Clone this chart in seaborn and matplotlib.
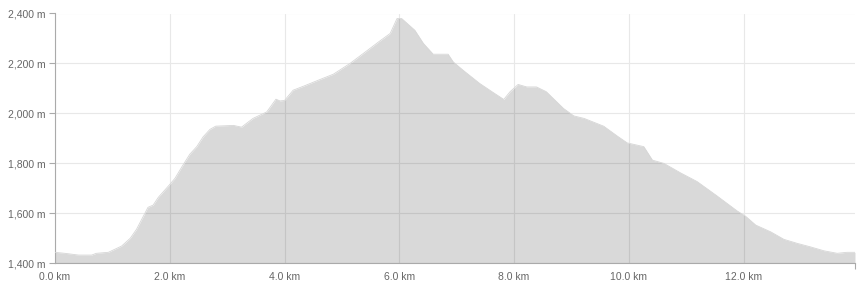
import matplotlib
matplotlib.use("Agg")
import matplotlib.pyplot as plt
import seaborn as sns
import pandas as pd
import numpy as np

# distance (km) and elevation (m)
distance_km = [0.0, 0.17, 0.41, 0.64, 0.72, 0.93, 1.16, 1.31, 1.42, 1.62, 1.71, 1.80,
               1.99, 2.09, 2.21, 2.35, 2.47, 2.58, 2.70, 2.80, 3.11, 3.25, 3.45, 3.69,
               3.85, 3.92, 4.0, 4.15, 4.33, 4.62, 4.85, 5.14, 5.43, 5.66, 5.84, 5.96,
               6.04, 6.27, 6.42, 6.59, 6.85, 6.94, 7.11, 7.40, 7.64, 7.82, 7.93, 8.07,
               8.22, 8.39, 8.56, 8.86, 9.04, 9.22, 9.56, 9.80, 9.97, 10.26, 10.41,
               10.61, 10.90, 11.19, 11.54, 11.89, 12.03, 12.21, 12.47, 12.70, 12.93,
               13.16, 13.40, 13.63, 13.80, 13.94]
elevation_m = [1444, 1440, 1433, 1433, 1440, 1444, 1469, 1500, 1536, 1624, 1633, 1664,
               1713, 1740, 1786, 1837, 1867, 1906, 1936, 1949, 1952, 1945, 1980, 2006,
               2057, 2050, 2052, 2093, 2109, 2136, 2157, 2200, 2250, 2290, 2320, 2380,
               2380, 2333, 2280, 2237, 2237, 2206, 2173, 2120, 2083, 2056, 2087, 2116,
               2106, 2106, 2087, 2020, 1990, 1980, 1949, 1909, 1882, 1867, 1813,
               1800, 1762, 1727, 1669, 1609, 1589, 1553, 1526, 1496, 1480,
               1466, 1450, 1440, 1444, 1444]
x_ticks = [0, 2, 4, 6, 8, 10, 12]
x_tick_labels = ["0.0 km", "2.0 km", "4.0 km", "6.0 km", "8.0 km", "10.0 km", "12.0 km"]
y_ticks = [1400, 1600, 1800, 2000, 2200, 2400]
y_tick_labels = ["1,400 m", "1,600 m", "1,800 m", "2,000 m", "2,200 m", "2,400 m"]

df = pd.DataFrame({"distance": distance_km, "elevation": elevation_m})

sns.set_theme(style="white")
plt.rcParams["font.family"] = ["Liberation Sans", "DejaVu Sans"]

fig = plt.figure(figsize=(8.64, 2.89), dpi=100)
ax = fig.add_axes([55 / 864, (289 - 263.3) / 289, 800 / 864, 249.8 / 289])

ax.fill_between(df["distance"], df["elevation"], 1400, color="black", alpha=0.15,
                linewidth=0, zorder=2)
sns.lineplot(data=df, x="distance", y="elevation", ax=ax, color="#d6d6d6",
             linewidth=0.6, zorder=3)

ax.set_xlim(0, distance_km[-1])
ax.set_ylim(1400, 2400)
ax.set_xticks(x_ticks)
ax.set_xticklabels(x_tick_labels)
ax.set_yticks(y_ticks)
ax.set_yticklabels(y_tick_labels)
ax.set_xticks([0, distance_km[-1]], minor=True)
ax.tick_params(axis="x", which="major", length=0, pad=6, labelsize=7.5, labelcolor="#666666")
ax.tick_params(axis="x", which="minor", length=4, width=0.8, color="#aaaaaa", bottom=True)
ax.tick_params(axis="y", which="major", length=4, width=0.8, color="#aaaaaa", left=True,
               pad=3, labelsize=7.5, labelcolor="#666666")
ax.set_xlabel("")
ax.set_ylabel("")

ax.grid(True, which="major", color="#e8e8e8", linewidth=0.8, zorder=1)
ax.set_axisbelow(True)
for side in ["top", "right"]:
    ax.spines[side].set_visible(False)
for side in ["left", "bottom"]:
    ax.spines[side].set_color("#aaaaaa")
    ax.spines[side].set_linewidth(0.8)

fig.savefig("out.png", dpi=100)
